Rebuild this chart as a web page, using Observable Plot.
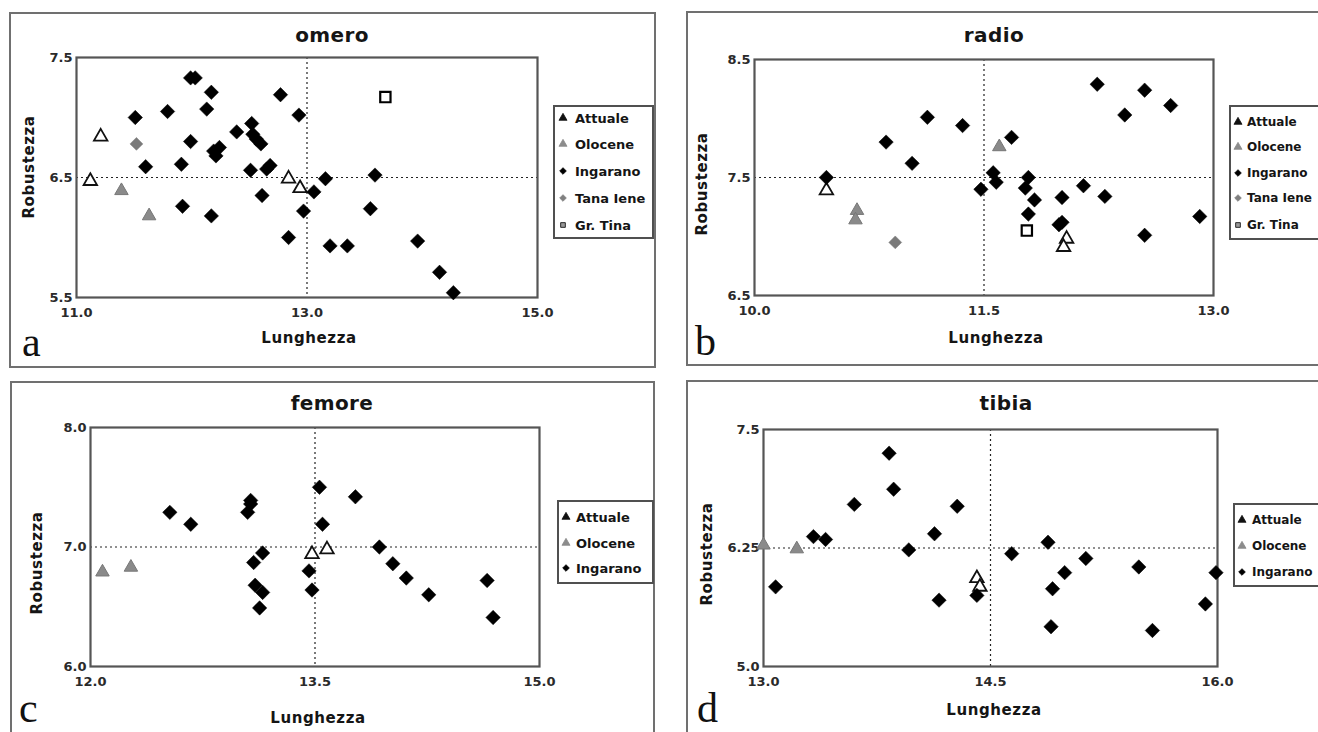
<!DOCTYPE html>
<html><head><meta charset="utf-8">
<script src="https://cdn.jsdelivr.net/npm/d3@7"></script>
<script src="https://cdn.jsdelivr.net/npm/@observablehq/plot@0.6"></script>
<style>
body{margin:0;background:#fff;}
#page{position:relative;width:1318px;height:732px;overflow:hidden;font-family:"DejaVu Sans",sans-serif;background:#fff;}
.box{position:absolute;border:2px solid #707070;box-sizing:border-box;}
.lg{position:absolute;border:2px solid #505050;box-sizing:border-box;background:#fff;}
.t{position:absolute;white-space:nowrap;transform:translate(-50%,-50%);font-weight:bold;color:#151515;}
.yl{position:absolute;white-space:nowrap;transform:translate(-50%,-50%) rotate(-90deg);font-weight:bold;color:#151515;font-size:15px;letter-spacing:0.6px;}
.let{position:absolute;font-family:"Liberation Serif",serif;font-size:42px;color:#111;line-height:36px;}
.lt{position:absolute;white-space:nowrap;font-weight:bold;color:#151515;transform:translateY(-50%);}
</style></head>
<body><div id="page"></div>
<script>
// ---------- data ----------
const seriesNames = ["Attuale", "Olocene", "Ingarano", "Tana Iene", "Gr. Tina"];

// omero (a)
const omeroAttuale = [[11.21,6.84],[11.12,6.47],[12.84,6.49],[12.94,6.41]];
const omeroOlocene = [[11.39,6.39],[11.63,6.18]];
const omeroIngarano = [[11.99,7.33],[12.03,7.33],[12.17,7.21],[12.77,7.19],[11.51,7.00],[11.79,7.05],[12.13,7.07],[12.93,7.02],
  [12.52,6.95],[12.39,6.88],[11.99,6.80],[12.53,6.86],[12.56,6.82],[12.60,6.78],[12.24,6.75],[12.19,6.72],[12.21,6.68],
  [11.60,6.59],[11.91,6.61],[12.51,6.56],[12.68,6.60],[12.65,6.57],[13.16,6.49],[13.59,6.52],[13.06,6.38],[12.61,6.35],
  [11.92,6.26],[12.17,6.18],[12.97,6.22],[13.55,6.24],[12.84,6.00],[13.20,5.93],[13.35,5.93],[13.96,5.97],[14.15,5.71],[14.27,5.54]];
const omeroTanaIene = [[11.52,6.78]];
const omeroGrTina = [[13.68,7.17]];

// radio (b)
const radioAttuale = [[10.47,7.39],[12.04,6.98],[12.02,6.91]];
const radioOlocene = [[11.60,7.76],[10.67,7.22],[10.66,7.14]];
const radioIngarano = [[12.24,8.29],[12.55,8.24],[12.72,8.11],[12.42,8.03],[11.13,8.01],[11.36,7.94],[10.86,7.80],[11.68,7.84],
  [11.03,7.62],[10.47,7.50],[11.56,7.54],[11.58,7.46],[11.48,7.40],[11.79,7.50],[11.77,7.41],[11.83,7.31],[12.01,7.33],
  [12.15,7.43],[12.29,7.34],[11.79,7.19],[11.99,7.10],[12.01,7.12],[12.55,7.01],[12.91,7.17]];
const radioTanaIene = [[10.92,6.95]];
const radioGrTina = [[11.78,7.05]];

// femore (c)
const femoreAttuale = [[13.58,6.98],[13.48,6.94]];
const femoreOlocene = [[12.08,6.79],[12.27,6.83]];
const femoreIngarano = [[12.53,7.29],[12.67,7.19],[13.07,7.39],[13.07,7.36],[13.05,7.29],[13.15,6.95],[13.09,6.87],
  [13.10,6.68],[13.15,6.62],[13.13,6.49],[13.53,7.50],[13.55,7.19],[13.77,7.42],[13.46,6.80],[13.48,6.64],[13.93,7.00],
  [14.02,6.86],[14.11,6.74],[14.26,6.60],[14.65,6.72],[14.69,6.41]];

// tibia (d)
const tibiaAttuale = [[14.41,5.93],[14.43,5.84]];
const tibiaOlocene = [[13.22,6.24],[13.00,6.28]];
const tibiaIngarano = [[13.83,7.25],[13.86,6.87],[13.60,6.71],[14.28,6.69],[13.33,6.37],[13.41,6.34],[14.13,6.40],[13.96,6.23],
  [13.08,5.84],[14.16,5.70],[14.41,5.75],[14.64,6.19],[14.88,6.31],[15.13,6.14],[14.99,5.99],[14.91,5.82],[15.48,6.05],
  [15.99,5.99],[15.92,5.66],[14.90,5.42],[15.57,5.38]];

// axis ticks
const omeroXTicks = [11.0, 13.0, 15.0], omeroYTicks = [5.5, 6.5, 7.5];
const radioXTicks = [10.0, 11.5, 13.0], radioYTicks = [6.5, 7.5, 8.5];
const femoreXTicks = [12.0, 13.5, 15.0], femoreYTicks = [6.0, 7.0, 8.0];
const tibiaXTicks = [13.0, 14.5, 16.0], tibiaYTicks = [5.0, 6.25, 7.5];

// ---------- styles ----------
const styleOf = {
  "Attuale":  {symbol: "triangle", r: 5.0, fill: "white", stroke: "#111", sw: 1.8, lfill: "#111", lstroke: "#111"},
  "Olocene":  {symbol: "triangle", r: 5.0, fill: "#8a8a8a", stroke: "#777", sw: 1, lfill: "#8c8c8c", lstroke: "#8c8c8c"},
  "Ingarano": {symbol: "diamond2", r: 6.5, fill: "#000", stroke: "#000", sw: 0.5, lfill: "#000", lstroke: "#000"},
  "Tana Iene":{symbol: "diamond2", r: 5.8, fill: "#7a7a7a", stroke: "#7a7a7a", sw: 0.5, lfill: "#808080", lstroke: "#808080"},
  "Gr. Tina": {symbol: "square", r: 5.8, fill: "white", stroke: "#000", sw: 2.2, lfill: "#999", lstroke: "#000"}
};

const page = document.getElementById("page");
function el(cls, css, text) {
  const d = document.createElement("div");
  d.className = cls;
  Object.assign(d.style, css);
  if (text != null) d.textContent = text;
  page.appendChild(d);
  return d;
}

function panel(cfg) {
  const [fx0, fx1, fy0, fy1] = cfg.frame;
  const mL = 50, mR = 12, mT = 12, mB = 30;
  const xd = [cfg.xTicks[0], cfg.xTicks[2]], yd = [cfg.yTicks[0], cfg.yTicks[2]];
  const yfmt = d => (Math.abs(d - 6.25) < 1e-9 ? "6.25" : d.toFixed(1));
  const axisFont = {fontSize: 13, fontWeight: "bold", fill: "#2a2a2a", fontFamily: "DejaVu Sans, sans-serif"};
  const marks = [
    Plot.axisX(cfg.xTicks, {tickFormat: d3.format(".1f"), tickSize: 0, tickPadding: 10, label: null, ...axisFont}),
    Plot.axisY(cfg.yTicks, {tickFormat: yfmt, tickSize: 0, tickPadding: 4, label: null, ...axisFont}),
    Plot.ruleX([cfg.xTicks[1]], {stroke: "#222", strokeWidth: 1.2, strokeDasharray: "2,3"}),
    Plot.ruleY([cfg.yTicks[1]], {stroke: "#222", strokeWidth: 1.2, strokeDasharray: "2,3"}),
    Plot.frame({stroke: "#555", strokeWidth: 2.2})
  ];
  cfg.series.forEach(([name, data]) => {
    const s = styleOf[name];
    marks.push(Plot.dot(data, {x: d => d[0], y: d => d[1], symbol: s.symbol, r: s.r, fill: s.fill, stroke: s.stroke, strokeWidth: s.sw}));
  });
  const chart = Plot.plot({
    width: fx1 - fx0 + mL + mR, height: fy1 - fy0 + mT + mB,
    marginLeft: mL, marginRight: mR, marginTop: mT, marginBottom: mB,
    x: {domain: xd},
    y: {domain: yd},
    style: {background: "transparent", overflow: "visible"},
    marks
  });
  chart.style.position = "absolute";
  chart.style.left = (fx0 - mL) + "px";
  chart.style.top = (fy0 - mT) + "px";
  page.appendChild(chart);

  // texts
  el("t", {left: cfg.title[0] + "px", top: cfg.title[1] + "px", fontSize: "20px", letterSpacing: "0.4px"}, cfg.title[2]);
  el("t", {left: cfg.xlab[0] + "px", top: cfg.xlab[1] + "px", fontSize: "15px", letterSpacing: "0.6px"}, "Lunghezza");
  el("yl", {left: cfg.ylab[0] + "px", top: cfg.ylab[1] + "px"}, "Robustezza");
  el("let", {left: cfg.letter[0] + "px", top: cfg.letter[1] + "px"}, cfg.letter[2]);

  // legend
  const [lx, ly, lw, lh] = cfg.legend.box;
  el("lg", {left: lx + "px", top: ly + "px", width: lw + "px", height: lh + "px"});
  cfg.legend.rows.forEach((name, i) => {
    const s = styleOf[name];
    const cy = cfg.legend.ys[i];
    const svg = d3.create("svg").attr("width", 12).attr("height", 12)
      .style("position", "absolute").style("left", (lx + cfg.legend.mx - 6) + "px").style("top", (cy - 6) + "px");
    svg.append("path").attr("transform", "translate(6,6)")
      .attr("d", d3.symbol().type(s.symbol === "triangle" ? d3.symbolTriangle : s.symbol === "square" ? d3.symbolSquare : d3.symbolDiamond2)
        .size(s.symbol === "square" ? 22 : 28)())
      .attr("fill", s.lfill).attr("stroke", s.lstroke).attr("stroke-width", 0.8);
    page.appendChild(svg.node());
    el("lt", {left: (lx + cfg.legend.tx) + "px", top: cy + "px", fontSize: cfg.legend.fs + "px"}, name);
  });
}

// outer boxes
el("box", {left: "9px", top: "12px", width: "647px", height: "356px"});
el("box", {left: "686px", top: "11px", width: "700px", height: "355px"});
el("box", {left: "10px", top: "381px", width: "645px", height: "400px"});
el("box", {left: "686px", top: "380px", width: "700px", height: "400px"});

panel({
  frame: [76, 537, 57, 297], xTicks: omeroXTicks, yTicks: omeroYTicks,
  series: [["Attuale", omeroAttuale], ["Olocene", omeroOlocene], ["Ingarano", omeroIngarano], ["Tana Iene", omeroTanaIene], ["Gr. Tina", omeroGrTina]],
  title: [332, 35, "omero"], xlab: [309, 338], ylab: [29, 167], letter: [22, 324, "a"],
  legend: {box: [553, 105, 101, 134], rows: seriesNames, ys: [118, 144, 171, 198, 225], mx: 10, tx: 22, fs: 13}
});
panel({
  frame: [754, 1213, 59, 295], xTicks: radioXTicks, yTicks: radioYTicks,
  series: [["Attuale", radioAttuale], ["Olocene", radioOlocene], ["Ingarano", radioIngarano], ["Tana Iene", radioTanaIene], ["Gr. Tina", radioGrTina]],
  title: [994, 35, "radio"], xlab: [996, 338], ylab: [702, 184], letter: [695, 323, "b"],
  legend: {box: [1229, 105, 120, 135], rows: seriesNames, ys: [122, 147, 173, 198, 225], mx: 9, tx: 18, fs: 12}
});
panel({
  frame: [90, 539, 427, 666], xTicks: femoreXTicks, yTicks: femoreYTicks,
  series: [["Attuale", femoreAttuale], ["Olocene", femoreOlocene], ["Ingarano", femoreIngarano]],
  title: [332, 403, "femore"], xlab: [318, 718], ylab: [37, 563], letter: [19, 690, "c"],
  legend: {box: [557, 500, 97, 84], rows: ["Attuale", "Olocene", "Ingarano"], ys: [517, 543, 568], mx: 9, tx: 19, fs: 13}
});
panel({
  frame: [763, 1217, 429, 666], xTicks: tibiaXTicks, yTicks: tibiaYTicks,
  series: [["Attuale", tibiaAttuale], ["Olocene", tibiaOlocene], ["Ingarano", tibiaIngarano]],
  title: [1006, 403, "tibia"], xlab: [994, 710], ylab: [707, 554], letter: [697, 690, "d"],
  legend: {box: [1233, 503, 120, 84], rows: ["Attuale", "Olocene", "Ingarano"], ys: [520, 546, 572], mx: 9, tx: 19, fs: 12}
});
</script>
</body></html>
